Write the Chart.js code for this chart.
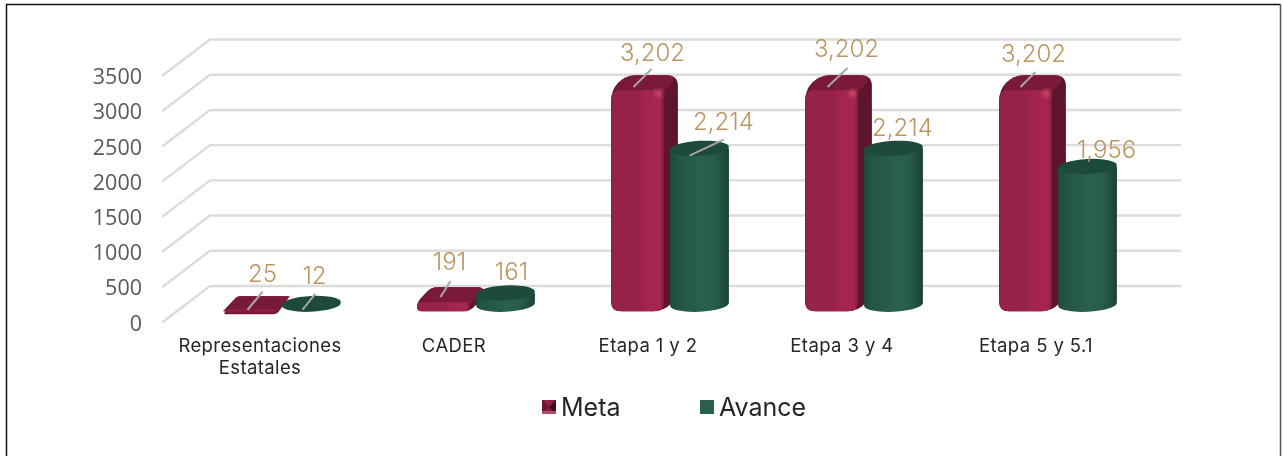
<!DOCTYPE html>
<html><head><meta charset="utf-8">
<style>html,body{margin:0;padding:0;background:#fff;overflow:hidden}#w{width:1283px;height:456px;position:relative}</style>
<script src="https://cdn.jsdelivr.net/npm/chart.js@4"></script>
</head><body><div id="w"><canvas id="c" width="1283" height="456"></canvas></div>
<script>
const categories=[["Representaciones","Estatales"],"CADER","Etapa 1 y 2","Etapa 3 y 4","Etapa 5 y 5.1"];
const meta=[25,191,3202,3202,3202];
const avance=[12,161,2214,2214,1956];
const seriesNames=["Meta","Avance"];
const yMax=3500, yStep=500;
// label placement relative to each bar element: [labelDx,labelDy,lineX0,lineY0,lineX1,lineY1]
const metaLabelPos=[[30,-46,15,-11,30,-29],[23,-46,14,-12,24,-28],[32,-43,13,-10,31,-28],[32,-47,13,-10,33,-29],[25,-42,12,-10,27,-25]];
const avanceLabelPos=[[27,-45,15,-12,28,-28],[30,-38,0,0,0,0],[48,-44,14,-11,48,-27],[33,-38,0,0,0,0],[43,-34,0,0,0,0]];
const DX=48,DY=36.5;
const LBL='#BC9661', UI='Inter, sans-serif';
function rr(ctx,pts,r){ctx.beginPath();const n=pts.length;for(let i=0;i<n;i++){const p=pts[i],q=pts[(i+1)%n],o=pts[(i+n-1)%n];const s=i==0?'moveTo':'lineTo';const d1=Math.hypot(p[0]-o[0],p[1]-o[1])||1,d2=Math.hypot(q[0]-p[0],q[1]-p[1])||1;const a=Math.min(r,d1/2),b=Math.min(r,d2/2);ctx[s](p[0]+(o[0]-p[0])*a/d1,p[1]+(o[1]-p[1])*a/d1);ctx.quadraticCurveTo(p[0],p[1],p[0]+(q[0]-p[0])*b/d2,p[1]+(q[1]-p[1])*b/d2);}ctx.closePath();}
function drawBox(ctx,el,zero){
 const cx=el.x+24, base=zero-DY/2, top=el.y-DY/2+4, W=el.width*0.96, dx=14, dy=15;
 const l=cx-(W+dx)/2, fb=base+7, ft=Math.min(top+7.5,fb), bt=ft-dy;
 const r=l+W, h=fb-ft, rad=Math.min(11,3+h*0.35);
 ctx.fillStyle='#5E142D';
 rr(ctx,[[l,fb],[l,ft],[l+dx,bt],[r+dx,bt],[r+dx,fb-dy],[r,fb]],rad);ctx.fill();
 ctx.fillStyle='#7A1A38';
 rr(ctx,[[l,ft+3],[l+dx,bt],[r+dx,bt],[r+1,ft+3]],rad);ctx.fill();
 if(h>3){const g=ctx.createLinearGradient(l,0,r,0);g.addColorStop(0,'#8A1F42');g.addColorStop(.06,'#982348');g.addColorStop(.55,'#982348');g.addColorStop(.65,'#A3254D');g.addColorStop(.93,'#A5264E');g.addColorStop(1,'#7E1C3B');
 ctx.fillStyle=g;rr(ctx,[[l,fb],[l,ft],[r,ft],[r,fb]],Math.min(9,1+h*0.3));ctx.fill();
 if(h>40){const hg=ctx.createRadialGradient(r-5,ft+3,0,r-5,ft+3,7);hg.addColorStop(0,'rgba(225,90,125,.6)');hg.addColorStop(1,'rgba(225,90,125,0)');ctx.fillStyle=hg;ctx.fillRect(r-13,ft-5,16,16);}}
 else{ctx.fillStyle='#95224A';rr(ctx,[[l,fb],[l+1,fb-1.5],[r,fb-1.5],[r-1,fb]],1);ctx.fill();}
}
function drawCyl(ctx,el,zero){
 const cx=el.x+24, base=zero-DY/2, top=el.y-DY/2, rx=el.width*1.07/2, ry=7.5, tilt=-0.05;
 const g=ctx.createLinearGradient(cx-rx,0,cx+rx,0);
 g.addColorStop(0,'#1B4A3C');g.addColorStop(.12,'#225544');g.addColorStop(.55,'#2A604E');g.addColorStop(.75,'#285C4B');g.addColorStop(.92,'#1E4D3E');g.addColorStop(1,'#183D32');
 ctx.fillStyle=g;ctx.beginPath();ctx.moveTo(cx-rx,top);ctx.lineTo(cx-rx,base);ctx.ellipse(cx,base,rx,ry,tilt,Math.PI,0,true);ctx.lineTo(cx+rx,top);ctx.closePath();ctx.fill();
 ctx.fillStyle='#1D4A3B';ctx.beginPath();ctx.ellipse(cx,top,rx,ry,tilt,0,Math.PI*2);ctx.fill();
}
const deco={id:'deco',
 afterLayout(chart){
  const s=chart.scales.x,ctx=chart.ctx;
  if(!s._ls){s._ls=1;const d=s.drawLabels;s.drawLabels=function(a){ctx.save();ctx.letterSpacing='0.4px';d.call(this,a);ctx.restore();};}
 },
 beforeDatasetsDraw(chart){
  const ctx=chart.ctx,y=chart.scales.y,a=chart.chartArea,zero=y.getPixelForValue(0);
  ctx.save();
  ctx.strokeStyle='#111';ctx.lineWidth=1.5;ctx.beginPath();ctx.moveTo(6.5,470);ctx.lineTo(6.5,4.5);ctx.lineTo(1280.5,4.5);ctx.stroke();
  ctx.strokeStyle='#555';ctx.beginPath();ctx.moveTo(1280.5,4.5);ctx.lineTo(1280.5,470);ctx.stroke();
  ctx.strokeStyle='#DCDCDC';ctx.lineWidth=2.4;ctx.lineJoin='miter';
  y.ticks.forEach(t=>{const p=y.getPixelForValue(t.value);ctx.beginPath();ctx.moveTo(a.left-1,p);ctx.lineTo(a.left-1+DX,p-DY);ctx.lineTo(a.right+DX,p-DY);ctx.stroke();});
  chart.getDatasetMeta(0).data.forEach(el=>drawBox(ctx,el,zero));
  chart.getDatasetMeta(1).data.forEach(el=>drawCyl(ctx,el,zero));
  ctx.restore();
 },
 beforeDatasetDraw(){return false;},
 afterDatasetsDraw(chart){
  const ctx=chart.ctx;
  ctx.save();
  chart.data.datasets.forEach((ds,i)=>{
   const pos=i===0?metaLabelPos:avanceLabelPos;
   chart.getDatasetMeta(i).data.forEach((el,j)=>{
    const p=pos[j];
    if(p[2]||p[4]){ctx.strokeStyle='#A6A6A6';ctx.lineWidth=2;ctx.beginPath();ctx.moveTo(el.x+p[2],el.y+p[3]);ctx.lineTo(el.x+p[4],el.y+p[5]);ctx.stroke();}
    ctx.fillStyle=LBL;ctx.font='300 24px '+UI;ctx.textAlign='center';ctx.textBaseline='middle';
    ctx.fillText(ds.data[j].toLocaleString('en-US'),el.x+p[0],el.y+p[1]);
   });
  });
  ctx.textAlign='left';ctx.textBaseline='middle';ctx.font='400 25px '+UI;
  const lx=[542,700];
  chart.data.datasets.forEach((ds,i)=>{
   const x=lx[i],y=400,s=14;
   if(i===0){
    ctx.fillStyle='#8B2245';ctx.fillRect(x,y,s,s);
    ctx.fillStyle='#6B1530';ctx.beginPath();ctx.moveTo(x,y);ctx.lineTo(x+s/2,y+s/2);ctx.lineTo(x,y+s);ctx.fill();
    ctx.fillStyle='#3F0E20';ctx.beginPath();ctx.moveTo(x+s,y);ctx.lineTo(x+s/2,y+s/2);ctx.lineTo(x+s,y+s);ctx.fill();
    ctx.fillStyle='#A85070';ctx.fillRect(x,y+s-3,s,3);
   }else{ctx.fillStyle='#2A5F4E';ctx.fillRect(x,y,s,s);}
   ctx.fillStyle='#262626';ctx.fillText(ds.label,x+19,y+8);
  });
  ctx.restore();
 }
};
new Chart(document.getElementById('c'),{
 type:'bar',
 data:{labels:categories,datasets:[
  {label:seriesNames[0],data:meta,backgroundColor:'#9C2449'},
  {label:seriesNames[1],data:avance,backgroundColor:'#2A5F4E'}]},
 options:{responsive:false,animation:false,events:[],
  layout:{padding:{left:0,right:150,top:76,bottom:0}},
  categoryPercentage:0.567,barPercentage:1,
  plugins:{legend:{display:false},title:{display:false},tooltip:{enabled:false}},
  scales:{
   x:{grid:{display:false},border:{display:false},
      afterFit(s){s.height=133.5;},
      ticks:{color:'#262626',font:{family:UI,size:18.5,lineHeight:1.24},padding:4,maxRotation:0,autoSkip:false}},
   y:{min:0,max:yMax,grid:{display:false},border:{display:false},
      afterFit(s){s.width=163;},
      ticks:{stepSize:yStep,color:'#595959',font:{family:'"Open Sans", sans-serif',size:21.5},padding:13,labelOffset:2,callback:v=>String(v)}}
  }},
 plugins:[deco]
});
</script></body></html>
